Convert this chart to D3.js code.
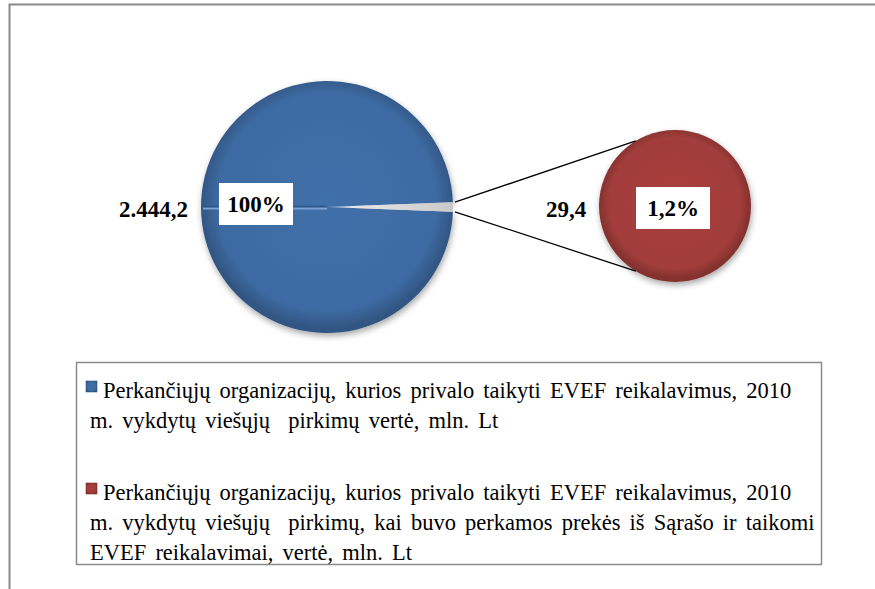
<!DOCTYPE html>
<html>

<head>
  <meta charset="utf-8">
  <script src="https://d3js.org/d3.v7.min.js"></script>
  <style>
    body {
      margin: 0;
      background: #ffffff;
    }
  </style>
</head>

<body>
  <svg id="chart"></svg>
  <script>
    // values
    const seriesNames = ["Visi pirkimai", "Sąrašo prekės"]
    const values = [2444.2, 29.4]
    const valueLabels = ["2.444,2", "29,4"]
    const percentLabels = ["100%", "1,2%"]
    const colors = ["#3e6ba3", "#a23d3a"]
    const legendLines = [
      ["Perkančiųjų organizacijų, kurios privalo taikyti EVEF reikalavimus, 2010",
        "m. vykdytų viešųjų  pirkimų vertė, mln. Lt"],
      ["Perkančiųjų organizacijų, kurios privalo taikyti EVEF reikalavimus, 2010",
        "m. vykdytų viešųjų  pirkimų, kai buvo perkamos prekės iš Sąrašo ir taikomi",
        "EVEF reikalavimai, vertė, mln. Lt"]
    ]

    const serif = "'Liberation Serif', 'DejaVu Serif', serif"
    const svgwidth = 875
    const svgheight = 589
    const svg = d3.select("#chart")
      .attr("width", svgwidth)
      .attr("height", svgheight)
      .attr("font-family", serif)

    const defs = svg.append("defs")

    // soft bevel look
    function bevel(id, c) {
      const g = defs.append("radialGradient").attr("id", id)
        .attr("cx", "50%").attr("cy", "48%").attr("r", "50%")
      g.append("stop").attr("offset", "0%").attr("stop-color", d3.color(c).brighter(0.1))
      g.append("stop").attr("offset", "86%").attr("stop-color", c)
      g.append("stop").attr("offset", "100%").attr("stop-color", d3.color(c).darker(0.6))
    }
    bevel("bevel0", colors[0])
    bevel("bevel1", colors[1])

    const shadow = defs.append("filter").attr("id", "shadow")
      .attr("x", "-20%").attr("y", "-20%").attr("width", "140%").attr("height", "140%")
    shadow.append("feDropShadow")
      .attr("dx", 1).attr("dy", 3).attr("stdDeviation", 3)
      .attr("flood-color", "#000").attr("flood-opacity", 0.35)

    const wedgeGrad = defs.append("linearGradient").attr("id", "wedge")
    wedgeGrad.append("stop").attr("offset", "0%").attr("stop-color", "#6d8fbb").attr("stop-opacity", 0)
    wedgeGrad.append("stop").attr("offset", "20%").attr("stop-color", "#e8e8e8")
    wedgeGrad.append("stop").attr("offset", "100%").attr("stop-color", "#c9c9c9")

    // outer frame
    svg.append("rect")
      .attr("x", 9.5).attr("y", 4.5)
      .attr("width", svgwidth).attr("height", svgheight)
      .attr("fill", "none").attr("stroke", "#8a8a8a").attr("stroke-width", 2)

    // main pie
    const cx1 = 327, cy1 = 207, r1 = 126
    const share = values[1] / values[0]
    const pie = d3.pie().sort(null)
      .startAngle(Math.PI / 2 + Math.PI * share)
      .endAngle(Math.PI / 2 + Math.PI * share + 2 * Math.PI)
    const mainArcs = pie([values[0] - values[1], values[1]])
    const arc1 = d3.arc().innerRadius(0).outerRadius(r1)

    const main = svg.append("g").attr("transform", `translate(${cx1},${cy1})`)
    main.append("path")
      .attr("d", arc1(mainArcs[0]))
      .attr("fill", "url(#bevel0)")
      .attr("filter", "url(#shadow)")

    // seam of the bevel on the left
    main.append("line")
      .attr("x1", -r1 + 2).attr("x2", 0).attr("y1", 1.5).attr("y2", 1.5)
      .attr("stroke", "#7ea3d6").attr("stroke-width", 2)
    main.append("line")
      .attr("x1", -r1 + 2).attr("x2", 0).attr("y1", -0.5).attr("y2", -0.5)
      .attr("stroke", "#2f5687").attr("stroke-width", 1.5)

    main.append("path")
      .attr("d", arc1(mainArcs[1]))
      .attr("fill", "url(#wedge)")

    // secondary pie
    const cx2 = 675, cy2 = 206, r2 = 76
    const arc2 = d3.arc().innerRadius(0).outerRadius(r2)
    const sub = svg.append("g").attr("transform", `translate(${cx2},${cy2})`)
    sub.append("path")
      .attr("d", arc2(d3.pie()([values[1]])[0]))
      .attr("fill", "url(#bevel1)")
      .attr("filter", "url(#shadow)")

    // connector lines
    const a0 = mainArcs[1].startAngle, a1 = mainArcs[1].endAngle
    const pt = (a, r, cx, cy) => [cx + r * Math.sin(a), cy - r * Math.cos(a)]
    const off = 59 * Math.PI / 180
    const conn = [
      [pt(a0, r1, cx1, cy1), pt(-Math.PI / 2 + off, r2, cx2, cy2)],
      [pt(a1, r1, cx1, cy1), pt(-Math.PI / 2 - off, r2, cx2, cy2)]
    ]
    svg.selectAll(".conn").data(conn).enter().append("line")
      .attr("class", "conn")
      .attr("x1", d => d[0][0] + 2).attr("y1", d => d[0][1])
      .attr("x2", d => d[1][0]).attr("y2", d => d[1][1])
      .attr("stroke", "#000").attr("stroke-width", 1.3)

    // data labels
    const labelFont = 23
    svg.append("text")
      .attr("x", cx1 - r1 - 13).attr("y", cy1 + 10)
      .attr("text-anchor", "end")
      .attr("font-size", labelFont).attr("font-weight", "bold")
      .text(valueLabels[0])

    svg.append("text")
      .attr("x", cx2 - r2 - 33).attr("y", cy2 + 11)
      .attr("text-anchor", "middle")
      .attr("font-size", labelFont).attr("font-weight", "bold")
      .text(valueLabels[1])

    const pctPos = [[256, cy1 - 3], [cx2 - 2, cy2 + 2]]
    const pct = svg.selectAll(".pct").data(percentLabels).enter().append("g")
      .attr("class", "pct")
      .attr("transform", (d, i) => `translate(${pctPos[i][0]},${pctPos[i][1]})`)
    pct.append("rect")
      .attr("x", -37).attr("y", -21).attr("width", 74).attr("height", 42)
      .attr("fill", "#ffffff")
    pct.append("text")
      .attr("y", 8)
      .attr("text-anchor", "middle")
      .attr("font-size", labelFont).attr("font-weight", "bold")
      .text(d => d)

    // legend
    svg.append("rect")
      .attr("x", 76.5).attr("y", 362.5).attr("width", 745).attr("height", 202)
      .attr("fill", "#ffffff").attr("stroke", "#8a8a8a").attr("stroke-width", 1.5)

    const entryTop = [398, 500]
    const lineH = 30
    const legend = svg.selectAll(".entry").data(legendLines).enter().append("g")
      .attr("class", "entry")
      .attr("transform", (d, i) => `translate(0,${entryTop[i]})`)

    legend.append("rect")
      .attr("x", 86).attr("y", -17).attr("width", 11).attr("height", 11)
      .attr("fill", (d, i) => `url(#bevel${i})`)
      .attr("stroke", (d, i) => d3.color(colors[i]).darker(0.5)).attr("stroke-width", 0.6)

    legend.selectAll("text").data(d => d).enter().append("text")
      .attr("x", (d, j) => j == 0 ? 103 : 90)
      .attr("y", (d, j) => j * lineH)
      .attr("font-size", 22.5)
      .attr("word-spacing", 3.5)
      .style("white-space", "pre")
      .attr("fill", "#000")
      .text(d => d)
  </script>
</body>

</html>
